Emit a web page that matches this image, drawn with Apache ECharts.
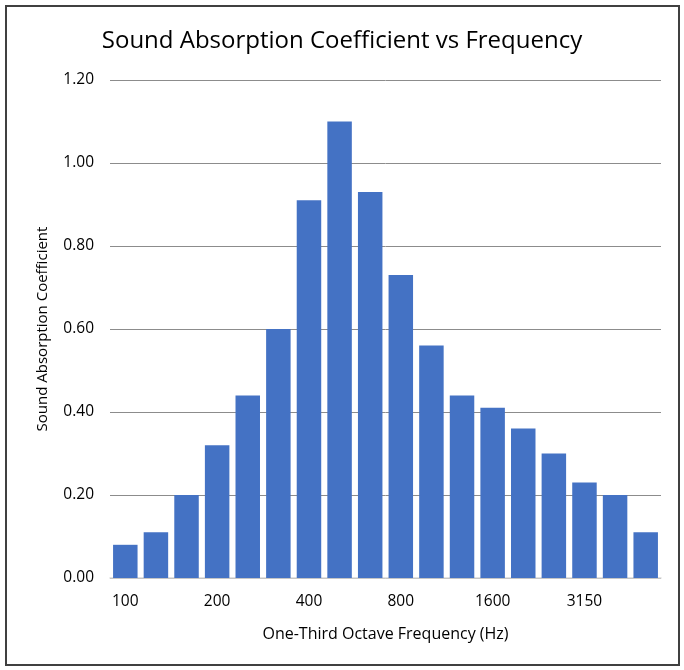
<!DOCTYPE html>
<html><head><meta charset="utf-8">
<script src="https://cdn.jsdelivr.net/npm/echarts@6/dist/echarts.min.js"></script>
<style>
html,body{margin:0;padding:0;background:#fff;}
#frame{position:absolute;left:5px;top:5px;width:675px;height:661px;border:2px solid #404040;box-sizing:border-box;}
#c{position:absolute;left:0;top:0;width:684px;height:670px;}
</style></head>
<body><div id="frame"></div><div id="c"></div>
<script>
const categories = ["100","125","160","200","250","315","400","500","630","800","1000","1250","1600","2000","2500","3150","4000","5000"];
const coefficients = [0.08,0.11,0.20,0.32,0.44,0.60,0.91,1.10,0.93,0.73,0.56,0.44,0.41,0.36,0.30,0.23,0.20,0.11];
const yTicks = {min:0, max:1.2, interval:0.2};
const titleText = "Sound Absorption Coefficient vs Frequency";
const xName = "One-Third Octave Frequency (Hz)";
const yName = "Sound Absorption Coefficient";

const font = "'Open Sans', 'Noto Sans', sans-serif";
const chart = echarts.init(document.getElementById('c'), null, {renderer:'canvas'});
chart.setOption({
  backgroundColor:'transparent',
  animation:false,
  title:{text:titleText, left:'center', top:24, textStyle:{fontFamily:font, fontSize:24, fontWeight:'normal', color:'#000'}},
  grid:{left:110, right:23, top:80, bottom:92},
  xAxis:{type:'category', data:categories, name:xName, nameLocation:'middle', nameGap:48,
    nameTextStyle:{fontFamily:font, fontSize:16, color:'#000'},
    axisLine:{lineStyle:{color:'#d9d9d9', width:1.5}}, axisTick:{show:false},
    axisLabel:{interval:2, fontFamily:font, fontSize:15.5, color:'#000', margin:16}},
  yAxis:{type:'value', min:yTicks.min, max:yTicks.max, interval:yTicks.interval, name:yName, nameLocation:'middle', nameGap:60,
    nameTextStyle:{fontFamily:font, fontSize:15, color:'#000'},
    axisLabel:{formatter:v=>v.toFixed(2), fontFamily:font, fontSize:15.5, color:'#000', margin:16},
    splitLine:{lineStyle:{color:'#8c8c8c', width:1}}, axisLine:{show:false}},
  series:[{type:'bar', data:coefficients, barCategoryGap:'20%', itemStyle:{color:'#4472c4'}}]
});
</script></body></html>
